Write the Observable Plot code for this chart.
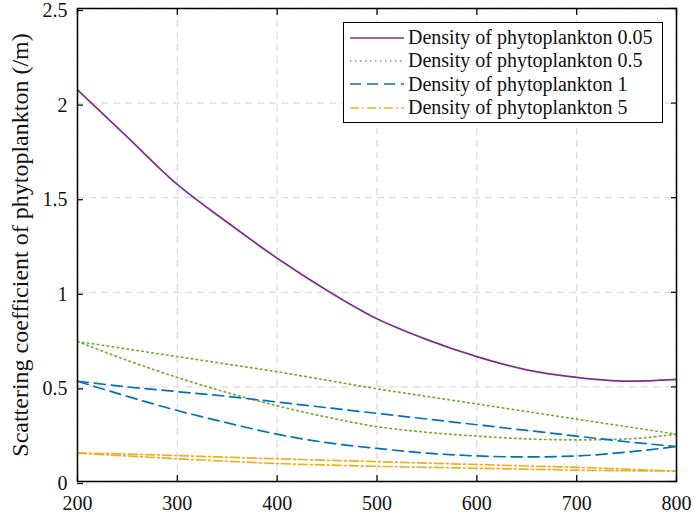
<!DOCTYPE html>
<html><head><meta charset="utf-8">
<script src="https://cdn.jsdelivr.net/npm/d3@7"></script>
<script src="https://cdn.jsdelivr.net/npm/@observablehq/plot@0.6"></script>
<style>
body{margin:0;background:#fff;}
#wrap{position:relative;width:694px;height:517px;}
#legend{position:absolute;left:343px;top:22px;width:320px;height:101px;border:1.5px solid #000;background:#fff;font-family:"Liberation Serif","Times New Roman",Times,serif;font-size:20px;color:#111;box-sizing:border-box;padding-top:3px;}
#legend .row{display:flex;align-items:center;height:23.3px;}
#legend svg{margin-left:5px;margin-right:3px;}
</style></head>
<body><div id="wrap"><div id="chart"></div><div id="legend"></div></div>
<script>
const wavelengths = [200,250,300,350,400,450,500,550,600,650,700,750,800];
const d005 = [2.07,1.82,1.57,1.37,1.18,1.01,0.86,0.75,0.66,0.59,0.55,0.53,0.54];
const d05a = [0.74,0.70,0.66,0.62,0.58,0.535,0.49,0.45,0.41,0.37,0.33,0.29,0.25];
const d05b = [0.74,0.64,0.55,0.47,0.40,0.34,0.29,0.26,0.24,0.225,0.22,0.225,0.25];
const d1a = [0.53,0.50,0.475,0.45,0.42,0.39,0.36,0.33,0.30,0.27,0.24,0.21,0.185];
const d1b = [0.53,0.45,0.375,0.31,0.25,0.205,0.175,0.15,0.135,0.13,0.135,0.155,0.185];
const d5a = [0.15,0.145,0.137,0.128,0.12,0.112,0.105,0.097,0.09,0.082,0.075,0.065,0.055];
const d5b = [0.15,0.135,0.12,0.107,0.095,0.087,0.08,0.075,0.07,0.065,0.06,0.057,0.055];
const xTicks = [200,300,400,500,600,700,800];
const yTicks = [0,0.5,1,1.5,2,2.5];
const seriesNames = ["Density of phytoplankton 0.05","Density of phytoplankton 0.5","Density of phytoplankton 1","Density of phytoplankton 5"];
const colors = ["#7E2F8E","#77AC30","#0072BD","#EDB120"];
const dashes = [null,"1.5,3.5","11,6","9,3,2,3"];

const curves = [
  {s:0, v:d005},{s:1, v:d05a},{s:1, v:d05b},{s:2, v:d1a},{s:2, v:d1b},{s:3, v:d5a},{s:3, v:d5b}
];
const lineMarks = curves.map((c,i) => Plot.line(wavelengths.map((x,j)=>({x, y:c.v[j]})), {
  x:"x", y:"y", stroke: colors[c.s], strokeWidth: 1.7, strokeDasharray: dashes[c.s], curve:"monotone-x"
}));
const fmt = d => String(d);

const chart = Plot.plot({
  width: 694, height: 517,
  marginLeft: 77, marginRight: 18, marginTop: 8, marginBottom: 36,
  style: {fontFamily: '"Liberation Serif", "Times New Roman", Times, serif', fontSize: "20px", color: "#111", background: "#fff"},
  x: {domain: [200,800]},
  y: {domain: [0,2.5]},
  marks: [
    Plot.gridX(xTicks, {stroke:"#dcdcdc", strokeOpacity:1, strokeWidth:1.3, strokeDasharray:"7,5"}),
    Plot.gridY(yTicks, {stroke:"#dcdcdc", strokeOpacity:1, strokeWidth:1.3, strokeDasharray:"7,5"}),
    ...lineMarks,
    Plot.axisX(xTicks, {anchor:"bottom", tickSize:-6, tickPadding:20, tickFormat:fmt, label:null, strokeWidth:1.3, fontSize:20}),
    Plot.axisX(xTicks, {anchor:"top", tickSize:-6, tickFormat:()=>"", label:null, strokeWidth:1.3}),
    Plot.axisY(yTicks, {anchor:"left", tickSize:-6, tickPadding:16, tickFormat:fmt, dy:2, fontSize:20, label:null, strokeWidth:1.3}),
    Plot.axisY({anchor:"left", ticks:[], label:"Scattering coefficient of phytoplankton (/m)", labelAnchor:"center", labelArrow:"none", labelOffset:67, fontSize:24}),
    Plot.axisY(yTicks, {anchor:"right", tickSize:-6, tickFormat:()=>"", label:null, strokeWidth:1.3}),
    Plot.frame({stroke:"#000", strokeWidth:1.5})
  ]
});
document.getElementById("chart").appendChild(chart);

const leg = document.getElementById("legend");
seriesNames.forEach((name,i)=>{
  const row = document.createElement("div"); row.className="row";
  row.innerHTML = `<svg width="56" height="10"><line x1="1" y1="5" x2="55" y2="5" stroke="${colors[i]}" stroke-width="1.7" ${dashes[i]?`stroke-dasharray="${dashes[i]}"`:""}/></svg><span>${name}</span>`;
  leg.appendChild(row);
});
</script></body></html>
